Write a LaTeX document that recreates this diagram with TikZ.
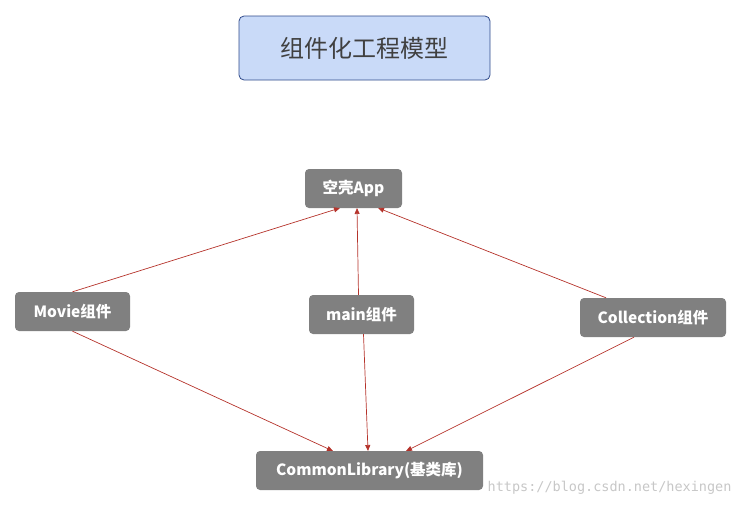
\documentclass[tikz,border=0pt]{standalone}
\usepackage{fontspec}
\setmainfont{Noto Sans CJK SC}
\newfontfamily\monof{DejaVu Sans Mono}
\usetikzlibrary{arrows.meta}
\definecolor{boxgray}{HTML}{808080}
\definecolor{titlefill}{HTML}{C9DAF8}
\definecolor{titleline}{HTML}{2F4A8A}
\definecolor{arrowred}{HTML}{B5332B}
\begin{document}
\begin{tikzpicture}[x=1pt,y=-1pt,
  comp/.style={draw=none,fill=boxgray,rounded corners=4pt,text=white,font=\bfseries\fontsize{15.5}{18}\selectfont,inner sep=0pt},
  conn/.style={draw=arrowred,line width=0.7pt,-{Triangle[length=6pt,width=5pt]}}]
\useasboundingbox (0,0) rectangle (743,507);
\node[draw=titleline,line width=0.8pt,fill=titlefill,rounded corners=5pt,minimum width=251pt,minimum height=64pt,text=black!75,font=\fontsize{24}{28}\selectfont] (title) at (364.5,48) {组件化工程模型};
\node[comp,minimum width=97pt,minimum height=39pt] (app) at (353.5,188.5) {空壳App};
\node[comp,minimum width=115pt,minimum height=39pt] (movie) at (72.5,311.5) {Movie组件};
\node[comp,minimum width=105pt,minimum height=39pt] (main) at (361.5,314.5) {main组件};
\node[comp,minimum width=146pt,minimum height=39pt] (coll) at (653,317.5) {Collection组件};
\node[comp,minimum width=227pt,minimum height=39pt] (lib) at (369.5,470.5) {CommonLibrary(基类库)};
\coordinate (a1) at (340,208); \coordinate (a2) at (357,208); \coordinate (a3) at (378,208);
\coordinate (l1) at (333,451); \coordinate (l2) at (368,451); \coordinate (l3) at (406,451);
\draw[conn] (movie.north) -- (a1);
\draw[conn] ([xshift=-3pt]main.north) -- (a2);
\draw[conn] ([xshift=-47pt]coll.north) -- (a3);
\draw[conn] (movie.south) -- (l1);
\draw[conn] ([xshift=2pt]main.south) -- (l2);
\draw[conn] ([xshift=-19pt]coll.south) -- (l3);
\node[text=black!22,font=\monof\fontsize{13.5}{15}\selectfont,anchor=east] (wm) at (735,488) {https://blog.csdn.net/hexingen};
\end{tikzpicture}
\end{document}
